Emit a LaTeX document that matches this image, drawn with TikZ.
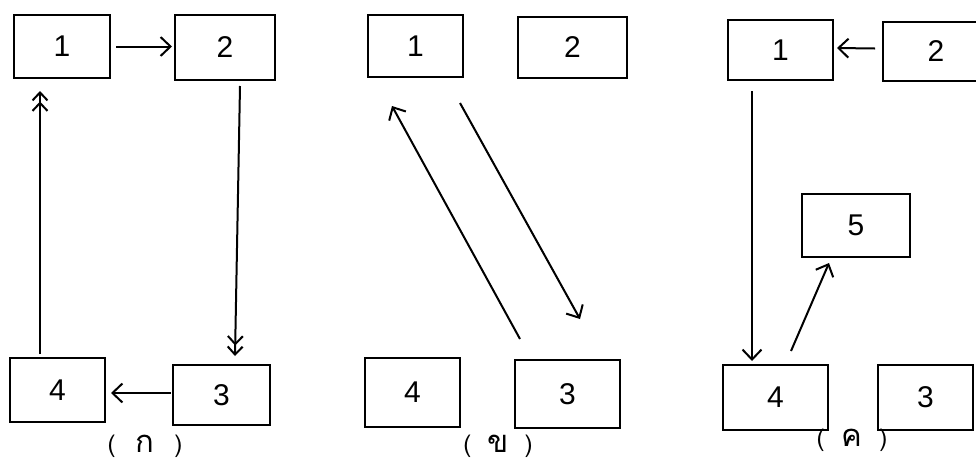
\documentclass[tikz,border=0pt]{standalone}
\usepackage{fontspec}
\setmainfont{Liberation Sans}
\newfontfamily\thaifont[Script=Thai]{Loma}
\newcommand{\thl}[1]{{\fontsize{31}{34}\selectfont #1}}
\usetikzlibrary{arrows.meta,calc}
\begin{document}
\begin{tikzpicture}[x=1pt,y=-1pt,
  box/.style={draw,line width=2pt,inner sep=0pt,font=\fontsize{30}{34}\selectfont},
  conn/.style={line width=2pt,-{Straight Barb[length=10pt,width=19pt,line width=2pt]}},
  dconn/.style={line width=2pt,-{Straight Barb[length=8pt,width=15pt,line width=2pt]Straight Barb[length=8pt,width=15pt,line width=2pt]}},
  lab/.style={font=\thaifont\fontsize{24}{28}\selectfont,inner sep=0pt,anchor=base}]
\useasboundingbox (0,0) rectangle (976,464);
\clip (0,0) rectangle (976,464);
% panel A
\node[box,minimum width=96pt,minimum height=63pt] (a1) at (62,46.5) {1};
\node[box,minimum width=100pt,minimum height=65pt] (a2) at (225,47.5) {2};
\node[box,minimum width=97pt,minimum height=60pt] (a3) at (221.5,395) {3};
\node[box,minimum width=95pt,minimum height=64pt] (a4) at (57.5,390) {4};
\draw[conn] ($(a1.east)+(5,0)$) -- ($(a2.west)+(-2,-1)$);
\draw[dconn] ($(a2.south)+(15,5)$) -- ($(a3.north)+(13.5,-8)$);
\draw[conn] ($(a3.west)+(-1,-2)$) -- ($(a4.east)+(5,3)$);
\draw[dconn] ($(a4.north)+(-17.5,-3)$) -- ($(a1.south)+(-22,12)$);
\node[lab] (la) at (145,452) {(\hspace{20pt}\thl{ก}\hspace{20pt})};
% panel B
\node[box,minimum width=95pt,minimum height=62pt] (b1) at (415.5,46) {1};
\node[box,minimum width=109pt,minimum height=61pt] (b2) at (572.5,47.5) {2};
\node[box,minimum width=105pt,minimum height=68pt] (b3) at (567.5,394) {3};
\node[box,minimum width=95pt,minimum height=69pt] (b4) at (412.5,392.5) {4};
\draw[conn] ($(b3.north)+(-47.5,-20)$) -- ($(b1.south)+(-23.5,28)$);
\draw[conn] ($(b1.south)+(44.5,25)$) -- ($(b3.north)+(12.5,-40)$);
\node[lab] (lb) at (498,452) {(\hspace{16pt}\thl{ข}\hspace{16pt})};
% panel C
\node[box,minimum width=105pt,minimum height=60pt] (c1) at (780.5,50) {1};
\node[box,minimum width=106pt,minimum height=59pt,text width=60pt,align=center] (c2) at (936,51.5) {2\hspace{-30pt}};
\node[box,minimum width=95pt,minimum height=65pt] (c3) at (925.5,397.5) {3};
\node[box,minimum width=105pt,minimum height=65pt] (c4) at (775.5,397.5) {4};
\node[box,minimum width=108pt,minimum height=63pt] (c5) at (856,225.5) {5};
\draw[conn] ($(c2.west)+(-7,-3)$) -- ($(c1.east)+(3,-2)$);
\draw[conn] ($(c1.south)+(-28.5,10)$) -- ($(c4.north)+(-23.5,-3)$);
\draw[conn] ($(c4.north)+(15.5,-13)$) -- ($(c5.south)+(-27,5)$);
\node[lab] (lc) at (852,446) {(\hspace{17pt}\thl{ค}\hspace{17pt})};
\end{tikzpicture}
\end{document}
